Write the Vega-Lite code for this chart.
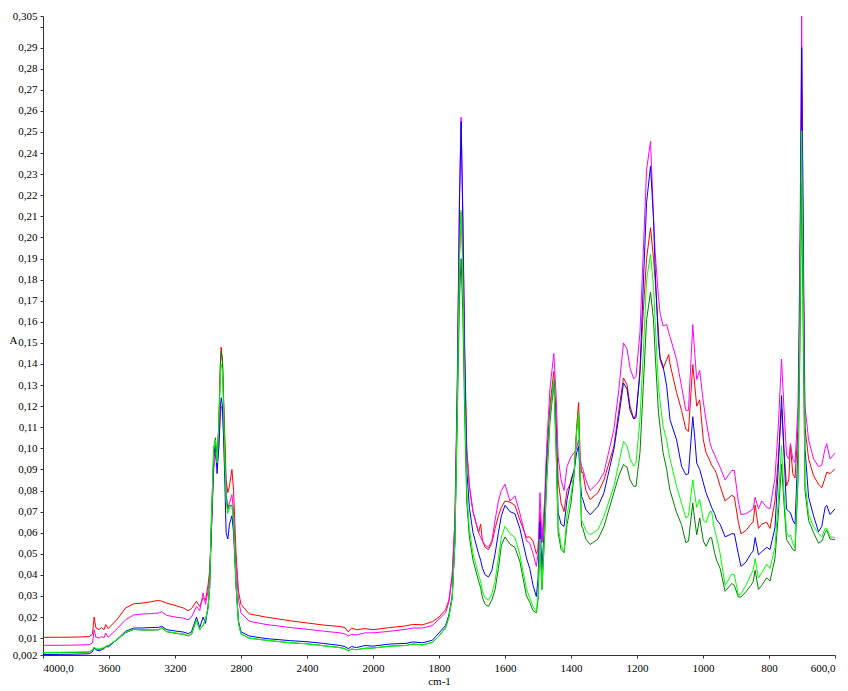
{
"$schema":"https://vega.github.io/schema/vega-lite/v6.json",
"width":792,"height":639,"autosize":"none",
"padding":{"left":43,"top":16,"right":13,"bottom":36},
"background":"white",
"config":{"view":{"stroke":null},"font":"Liberation Serif",
"axis":{"grid":false,"domainColor":"#333","tickColor":"#333","labelColor":"#000","labelFontSize":11,"titleFontWeight":"normal","titleFontSize":11,"titleColor":"#000","tickSize":3}},
"datasets":{
"red":[{"x":4000,"y":0.0104},{"x":3900,"y":0.0104},{"x":3800,"y":0.0105},{"x":3720,"y":0.0107},{"x":3700,"y":0.012},{"x":3690,"y":0.02},{"x":3680,"y":0.015},{"x":3660,"y":0.014},{"x":3645,"y":0.015},{"x":3630,"y":0.014},{"x":3620,"y":0.0164},{"x":3605,"y":0.0145},{"x":3550,"y":0.019},{"x":3500,"y":0.0243},{"x":3450,"y":0.0263},{"x":3400,"y":0.0266},{"x":3350,"y":0.0272},{"x":3300,"y":0.0279},{"x":3280,"y":0.0275},{"x":3250,"y":0.0266},{"x":3200,"y":0.0255},{"x":3150,"y":0.0243},{"x":3120,"y":0.023},{"x":3100,"y":0.024},{"x":3070,"y":0.0275},{"x":3050,"y":0.025},{"x":3030,"y":0.029},{"x":3015,"y":0.028},{"x":3000,"y":0.035},{"x":2990,"y":0.042},{"x":2980,"y":0.06},{"x":2965,"y":0.095},{"x":2955,"y":0.1},{"x":2945,"y":0.095},{"x":2935,"y":0.11},{"x":2925,"y":0.14},{"x":2920,"y":0.148},{"x":2912,"y":0.14},{"x":2900,"y":0.11},{"x":2890,"y":0.085},{"x":2880,"y":0.079},{"x":2870,"y":0.082},{"x":2855,"y":0.09},{"x":2845,"y":0.08},{"x":2830,"y":0.05},{"x":2815,"y":0.032},{"x":2800,"y":0.026},{"x":2750,"y":0.0215},{"x":2650,"y":0.02},{"x":2500,"y":0.0182},{"x":2400,"y":0.0172},{"x":2300,"y":0.0162},{"x":2200,"y":0.0155},{"x":2170,"y":0.015},{"x":2150,"y":0.013},{"x":2130,"y":0.0148},{"x":2100,"y":0.014},{"x":2050,"y":0.0145},{"x":2000,"y":0.014},{"x":1950,"y":0.015},{"x":1900,"y":0.0158},{"x":1880,"y":0.0165},{"x":1850,"y":0.0163},{"x":1820,"y":0.0178},{"x":1800,"y":0.02},{"x":1780,"y":0.0235},{"x":1770,"y":0.028},{"x":1760,"y":0.04},{"x":1752,"y":0.065},{"x":1745,"y":0.12},{"x":1738,"y":0.19},{"x":1733,"y":0.212},{"x":1728,"y":0.19},{"x":1722,"y":0.14},{"x":1716,"y":0.1},{"x":1708,"y":0.082},{"x":1697,"y":0.07},{"x":1680,"y":0.06},{"x":1674,"y":0.064},{"x":1668,"y":0.056},{"x":1660,"y":0.053},{"x":1650,"y":0.052},{"x":1640,"y":0.055},{"x":1630,"y":0.062},{"x":1620,"y":0.068},{"x":1611,"y":0.072},{"x":1600,"y":0.075},{"x":1585,"y":0.0745},{"x":1570,"y":0.073},{"x":1555,"y":0.066},{"x":1535,"y":0.0578},{"x":1525,"y":0.058},{"x":1515,"y":0.056},{"x":1505,"y":0.05},{"x":1500,"y":0.052},{"x":1494,"y":0.0695},{"x":1488,"y":0.0553},{"x":1480,"y":0.07},{"x":1474,"y":0.095},{"x":1464,"y":0.12},{"x":1452,"y":0.1365},{"x":1445,"y":0.115},{"x":1439,"y":0.085},{"x":1430,"y":0.074},{"x":1421,"y":0.07},{"x":1412,"y":0.08},{"x":1400,"y":0.0837},{"x":1390,"y":0.09},{"x":1383,"y":0.11},{"x":1377,"y":0.1217},{"x":1372,"y":0.095},{"x":1368,"y":0.0885},{"x":1364,"y":0.0885},{"x":1355,"y":0.08},{"x":1342,"y":0.0757},{"x":1318,"y":0.079},{"x":1300,"y":0.085},{"x":1270,"y":0.101},{"x":1255,"y":0.118},{"x":1241,"y":0.1334},{"x":1230,"y":0.13},{"x":1221,"y":0.12},{"x":1210,"y":0.114},{"x":1203,"y":0.116},{"x":1191,"y":0.135},{"x":1181,"y":0.165},{"x":1171,"y":0.19},{"x":1159,"y":0.2046},{"x":1150,"y":0.19},{"x":1145,"y":0.18},{"x":1135,"y":0.155},{"x":1130,"y":0.142},{"x":1121,"y":0.138},{"x":1110,"y":0.142},{"x":1104,"y":0.1445},{"x":1100,"y":0.14},{"x":1080,"y":0.1264},{"x":1065,"y":0.118},{"x":1052,"y":0.109},{"x":1044,"y":0.108},{"x":1031,"y":0.1397},{"x":1025,"y":0.13},{"x":1019,"y":0.12},{"x":1010,"y":0.123},{"x":999,"y":0.104},{"x":991,"y":0.098},{"x":979,"y":0.094},{"x":974,"y":0.092},{"x":965,"y":0.09},{"x":959,"y":0.088},{"x":948,"y":0.082},{"x":933,"y":0.075},{"x":913,"y":0.0777},{"x":905,"y":0.077},{"x":893,"y":0.065},{"x":885,"y":0.0595},{"x":870,"y":0.061},{"x":855,"y":0.064},{"x":848,"y":0.065},{"x":842,"y":0.0731},{"x":832,"y":0.062},{"x":822,"y":0.064},{"x":807,"y":0.065},{"x":797,"y":0.062},{"x":782,"y":0.075},{"x":772,"y":0.095},{"x":762,"y":0.1187},{"x":755,"y":0.1},{"x":747,"y":0.0822},{"x":740,"y":0.085},{"x":735,"y":0.1013},{"x":728,"y":0.088},{"x":721,"y":0.0859},{"x":712,"y":0.11},{"x":706,"y":0.18},{"x":701,"y":0.27},{"x":696,"y":0.18},{"x":691,"y":0.11},{"x":680,"y":0.095},{"x":665,"y":0.087},{"x":650,"y":0.083},{"x":640,"y":0.0813},{"x":630,"y":0.086},{"x":625,"y":0.0887},{"x":615,"y":0.088},{"x":600,"y":0.0904}],
"magenta":[{"x":4000,"y":0.0066},{"x":3900,"y":0.0066},{"x":3800,"y":0.0067},{"x":3720,"y":0.0069},{"x":3700,"y":0.0078},{"x":3690,"y":0.014},{"x":3680,"y":0.0105},{"x":3660,"y":0.01},{"x":3645,"y":0.0108},{"x":3630,"y":0.0102},{"x":3620,"y":0.0124},{"x":3605,"y":0.0105},{"x":3550,"y":0.0145},{"x":3500,"y":0.0187},{"x":3450,"y":0.021},{"x":3400,"y":0.0214},{"x":3350,"y":0.0216},{"x":3300,"y":0.0219},{"x":3280,"y":0.0225},{"x":3250,"y":0.0208},{"x":3200,"y":0.02},{"x":3150,"y":0.0195},{"x":3120,"y":0.0187},{"x":3100,"y":0.02},{"x":3070,"y":0.025},{"x":3050,"y":0.023},{"x":3030,"y":0.0315},{"x":3015,"y":0.026},{"x":3000,"y":0.032},{"x":2990,"y":0.04},{"x":2980,"y":0.06},{"x":2965,"y":0.09},{"x":2955,"y":0.097},{"x":2945,"y":0.092},{"x":2935,"y":0.1},{"x":2925,"y":0.115},{"x":2920,"y":0.12},{"x":2912,"y":0.118},{"x":2900,"y":0.1},{"x":2890,"y":0.078},{"x":2880,"y":0.072},{"x":2870,"y":0.074},{"x":2855,"y":0.078},{"x":2845,"y":0.07},{"x":2830,"y":0.045},{"x":2815,"y":0.028},{"x":2800,"y":0.022},{"x":2750,"y":0.018},{"x":2650,"y":0.0165},{"x":2500,"y":0.015},{"x":2400,"y":0.0142},{"x":2300,"y":0.0133},{"x":2200,"y":0.0125},{"x":2170,"y":0.012},{"x":2150,"y":0.011},{"x":2130,"y":0.0118},{"x":2100,"y":0.0115},{"x":2050,"y":0.0125},{"x":2000,"y":0.0125},{"x":1950,"y":0.0132},{"x":1900,"y":0.0142},{"x":1880,"y":0.0148},{"x":1850,"y":0.0148},{"x":1820,"y":0.016},{"x":1800,"y":0.019},{"x":1780,"y":0.022},{"x":1770,"y":0.027},{"x":1760,"y":0.039},{"x":1752,"y":0.065},{"x":1745,"y":0.13},{"x":1738,"y":0.22},{"x":1733,"y":0.257},{"x":1728,"y":0.215},{"x":1722,"y":0.15},{"x":1716,"y":0.1},{"x":1708,"y":0.082},{"x":1697,"y":0.07},{"x":1680,"y":0.06},{"x":1674,"y":0.058},{"x":1668,"y":0.056},{"x":1660,"y":0.054},{"x":1650,"y":0.053},{"x":1640,"y":0.056},{"x":1630,"y":0.066},{"x":1620,"y":0.075},{"x":1611,"y":0.08},{"x":1600,"y":0.083},{"x":1585,"y":0.075},{"x":1570,"y":0.0775},{"x":1555,"y":0.0693},{"x":1535,"y":0.0562},{"x":1525,"y":0.055},{"x":1515,"y":0.05},{"x":1505,"y":0.044},{"x":1500,"y":0.05},{"x":1494,"y":0.079},{"x":1488,"y":0.057},{"x":1480,"y":0.075},{"x":1474,"y":0.1},{"x":1464,"y":0.128},{"x":1452,"y":0.145},{"x":1445,"y":0.125},{"x":1439,"y":0.096},{"x":1430,"y":0.085},{"x":1421,"y":0.08},{"x":1412,"y":0.0915},{"x":1400,"y":0.096},{"x":1390,"y":0.098},{"x":1383,"y":0.1},{"x":1377,"y":0.104},{"x":1372,"y":0.095},{"x":1368,"y":0.0915},{"x":1364,"y":0.09},{"x":1355,"y":0.085},{"x":1342,"y":0.08},{"x":1318,"y":0.0837},{"x":1300,"y":0.0885},{"x":1270,"y":0.109},{"x":1255,"y":0.128},{"x":1241,"y":0.15},{"x":1230,"y":0.147},{"x":1221,"y":0.138},{"x":1210,"y":0.133},{"x":1203,"y":0.134},{"x":1191,"y":0.155},{"x":1181,"y":0.193},{"x":1171,"y":0.232},{"x":1159,"y":0.2456},{"x":1150,"y":0.21},{"x":1145,"y":0.193},{"x":1135,"y":0.172},{"x":1130,"y":0.164},{"x":1121,"y":0.158},{"x":1110,"y":0.1587},{"x":1104,"y":0.155},{"x":1100,"y":0.153},{"x":1080,"y":0.142},{"x":1065,"y":0.1294},{"x":1052,"y":0.118},{"x":1044,"y":0.118},{"x":1031,"y":0.1587},{"x":1025,"y":0.145},{"x":1019,"y":0.1326},{"x":1010,"y":0.137},{"x":999,"y":0.122},{"x":991,"y":0.1136},{"x":979,"y":0.1027},{"x":974,"y":0.1},{"x":965,"y":0.097},{"x":959,"y":0.0946},{"x":948,"y":0.091},{"x":933,"y":0.085},{"x":913,"y":0.0895},{"x":905,"y":0.0895},{"x":893,"y":0.075},{"x":885,"y":0.0686},{"x":870,"y":0.069},{"x":855,"y":0.0705},{"x":848,"y":0.0713},{"x":842,"y":0.0768},{"x":832,"y":0.0713},{"x":822,"y":0.075},{"x":807,"y":0.072},{"x":797,"y":0.0713},{"x":782,"y":0.0859},{"x":772,"y":0.11},{"x":762,"y":0.1423},{"x":755,"y":0.12},{"x":747,"y":0.0968},{"x":740,"y":0.095},{"x":735,"y":0.1022},{"x":728,"y":0.095},{"x":721,"y":0.0932},{"x":712,"y":0.12},{"x":706,"y":0.2},{"x":701,"y":0.305},{"x":696,"y":0.2},{"x":691,"y":0.12},{"x":680,"y":0.104},{"x":665,"y":0.095},{"x":650,"y":0.0913},{"x":640,"y":0.092},{"x":630,"y":0.1},{"x":625,"y":0.1022},{"x":615,"y":0.095},{"x":600,"y":0.0977}],
"blue":[{"x":4000,"y":0.0022},{"x":3900,"y":0.0023},{"x":3800,"y":0.0024},{"x":3720,"y":0.0026},{"x":3700,"y":0.0035},{"x":3690,"y":0.0055},{"x":3680,"y":0.0045},{"x":3660,"y":0.004},{"x":3645,"y":0.0045},{"x":3630,"y":0.005},{"x":3620,"y":0.006},{"x":3605,"y":0.0058},{"x":3550,"y":0.0095},{"x":3500,"y":0.0132},{"x":3450,"y":0.0148},{"x":3400,"y":0.0148},{"x":3350,"y":0.015},{"x":3300,"y":0.0151},{"x":3280,"y":0.0156},{"x":3250,"y":0.014},{"x":3200,"y":0.0134},{"x":3150,"y":0.0129},{"x":3120,"y":0.0121},{"x":3100,"y":0.013},{"x":3070,"y":0.02},{"x":3050,"y":0.015},{"x":3030,"y":0.02},{"x":3015,"y":0.017},{"x":3000,"y":0.025},{"x":2990,"y":0.034},{"x":2980,"y":0.06},{"x":2965,"y":0.097},{"x":2955,"y":0.102},{"x":2945,"y":0.088},{"x":2935,"y":0.1},{"x":2925,"y":0.12},{"x":2920,"y":0.124},{"x":2912,"y":0.12},{"x":2900,"y":0.09},{"x":2890,"y":0.06},{"x":2880,"y":0.057},{"x":2870,"y":0.064},{"x":2855,"y":0.068},{"x":2845,"y":0.06},{"x":2830,"y":0.035},{"x":2815,"y":0.018},{"x":2800,"y":0.013},{"x":2750,"y":0.011},{"x":2650,"y":0.0098},{"x":2500,"y":0.0088},{"x":2400,"y":0.0083},{"x":2300,"y":0.0075},{"x":2200,"y":0.0065},{"x":2170,"y":0.006},{"x":2150,"y":0.005},{"x":2130,"y":0.006},{"x":2100,"y":0.0055},{"x":2050,"y":0.0065},{"x":2000,"y":0.0062},{"x":1950,"y":0.0072},{"x":1900,"y":0.0075},{"x":1880,"y":0.0082},{"x":1850,"y":0.0078},{"x":1820,"y":0.009},{"x":1800,"y":0.0125},{"x":1780,"y":0.016},{"x":1770,"y":0.021},{"x":1760,"y":0.03},{"x":1752,"y":0.055},{"x":1745,"y":0.12},{"x":1738,"y":0.215},{"x":1733,"y":0.255},{"x":1728,"y":0.21},{"x":1722,"y":0.14},{"x":1716,"y":0.09},{"x":1708,"y":0.072},{"x":1697,"y":0.06},{"x":1680,"y":0.05},{"x":1674,"y":0.047},{"x":1668,"y":0.043},{"x":1660,"y":0.04},{"x":1650,"y":0.039},{"x":1640,"y":0.042},{"x":1630,"y":0.05},{"x":1620,"y":0.06},{"x":1611,"y":0.068},{"x":1600,"y":0.073},{"x":1585,"y":0.07},{"x":1570,"y":0.069},{"x":1555,"y":0.062},{"x":1535,"y":0.048},{"x":1525,"y":0.043},{"x":1515,"y":0.035},{"x":1505,"y":0.0297},{"x":1500,"y":0.038},{"x":1494,"y":0.065},{"x":1488,"y":0.0425},{"x":1480,"y":0.065},{"x":1474,"y":0.09},{"x":1464,"y":0.115},{"x":1452,"y":0.1326},{"x":1445,"y":0.105},{"x":1439,"y":0.0695},{"x":1430,"y":0.064},{"x":1421,"y":0.063},{"x":1412,"y":0.0757},{"x":1400,"y":0.085},{"x":1390,"y":0.09},{"x":1383,"y":0.098},{"x":1377,"y":0.101},{"x":1372,"y":0.085},{"x":1368,"y":0.0772},{"x":1364,"y":0.0757},{"x":1355,"y":0.071},{"x":1342,"y":0.0685},{"x":1318,"y":0.0725},{"x":1300,"y":0.079},{"x":1270,"y":0.0995},{"x":1255,"y":0.115},{"x":1241,"y":0.131},{"x":1230,"y":0.128},{"x":1221,"y":0.118},{"x":1210,"y":0.114},{"x":1203,"y":0.1146},{"x":1191,"y":0.1373},{"x":1181,"y":0.177},{"x":1171,"y":0.2166},{"x":1159,"y":0.2338},{"x":1150,"y":0.2086},{"x":1145,"y":0.185},{"x":1135,"y":0.15},{"x":1130,"y":0.143},{"x":1121,"y":0.139},{"x":1110,"y":0.1294},{"x":1104,"y":0.12},{"x":1100,"y":0.1136},{"x":1080,"y":0.104},{"x":1065,"y":0.0915},{"x":1052,"y":0.0875},{"x":1044,"y":0.088},{"x":1031,"y":0.115},{"x":1025,"y":0.105},{"x":1019,"y":0.093},{"x":1010,"y":0.09},{"x":999,"y":0.0836},{"x":991,"y":0.079},{"x":979,"y":0.0742},{"x":974,"y":0.072},{"x":965,"y":0.069},{"x":959,"y":0.0662},{"x":948,"y":0.064},{"x":933,"y":0.058},{"x":913,"y":0.0595},{"x":905,"y":0.0595},{"x":893,"y":0.05},{"x":885,"y":0.044},{"x":870,"y":0.046},{"x":855,"y":0.05},{"x":848,"y":0.0513},{"x":842,"y":0.0577},{"x":832,"y":0.0495},{"x":822,"y":0.051},{"x":807,"y":0.0531},{"x":797,"y":0.052},{"x":782,"y":0.0622},{"x":772,"y":0.09},{"x":762,"y":0.125},{"x":755,"y":0.1},{"x":747,"y":0.0713},{"x":740,"y":0.07},{"x":735,"y":0.0695},{"x":728,"y":0.066},{"x":721,"y":0.064},{"x":712,"y":0.1},{"x":706,"y":0.18},{"x":701,"y":0.29},{"x":696,"y":0.19},{"x":691,"y":0.1},{"x":680,"y":0.0768},{"x":665,"y":0.068},{"x":650,"y":0.0604},{"x":640,"y":0.063},{"x":630,"y":0.072},{"x":625,"y":0.073},{"x":615,"y":0.0686},{"x":600,"y":0.0713}],
"dgreen":[{"x":4000,"y":0.003},{"x":3900,"y":0.0031},{"x":3800,"y":0.0032},{"x":3720,"y":0.0034},{"x":3700,"y":0.0043},{"x":3690,"y":0.0056},{"x":3680,"y":0.0048},{"x":3660,"y":0.0046},{"x":3645,"y":0.005},{"x":3630,"y":0.0053},{"x":3620,"y":0.006},{"x":3605,"y":0.0063},{"x":3550,"y":0.0093},{"x":3500,"y":0.0125},{"x":3450,"y":0.0141},{"x":3400,"y":0.0138},{"x":3350,"y":0.0138},{"x":3300,"y":0.0139},{"x":3280,"y":0.0148},{"x":3250,"y":0.013},{"x":3200,"y":0.0123},{"x":3150,"y":0.0118},{"x":3120,"y":0.011},{"x":3100,"y":0.0118},{"x":3070,"y":0.0185},{"x":3050,"y":0.014},{"x":3030,"y":0.016},{"x":3015,"y":0.019},{"x":3000,"y":0.024},{"x":2990,"y":0.034},{"x":2980,"y":0.065},{"x":2965,"y":0.1},{"x":2955,"y":0.105},{"x":2945,"y":0.095},{"x":2935,"y":0.11},{"x":2925,"y":0.14},{"x":2920,"y":0.146},{"x":2912,"y":0.142},{"x":2900,"y":0.105},{"x":2890,"y":0.078},{"x":2880,"y":0.071},{"x":2870,"y":0.073},{"x":2855,"y":0.073},{"x":2845,"y":0.066},{"x":2830,"y":0.035},{"x":2815,"y":0.017},{"x":2800,"y":0.012},{"x":2750,"y":0.01},{"x":2650,"y":0.009},{"x":2500,"y":0.0078},{"x":2400,"y":0.0073},{"x":2300,"y":0.0064},{"x":2200,"y":0.0055},{"x":2170,"y":0.005},{"x":2150,"y":0.004},{"x":2130,"y":0.0048},{"x":2100,"y":0.0045},{"x":2050,"y":0.0052},{"x":2000,"y":0.0053},{"x":1950,"y":0.0062},{"x":1900,"y":0.0065},{"x":1880,"y":0.0072},{"x":1850,"y":0.0068},{"x":1820,"y":0.008},{"x":1800,"y":0.011},{"x":1780,"y":0.015},{"x":1770,"y":0.02},{"x":1760,"y":0.029},{"x":1752,"y":0.055},{"x":1745,"y":0.11},{"x":1738,"y":0.17},{"x":1733,"y":0.19},{"x":1728,"y":0.165},{"x":1722,"y":0.115},{"x":1716,"y":0.075},{"x":1708,"y":0.058},{"x":1697,"y":0.047},{"x":1680,"y":0.037},{"x":1674,"y":0.034},{"x":1668,"y":0.029},{"x":1660,"y":0.026},{"x":1650,"y":0.025},{"x":1640,"y":0.028},{"x":1630,"y":0.033},{"x":1620,"y":0.043},{"x":1611,"y":0.054},{"x":1600,"y":0.058},{"x":1585,"y":0.0546},{"x":1570,"y":0.053},{"x":1555,"y":0.0464},{"x":1535,"y":0.03},{"x":1525,"y":0.027},{"x":1515,"y":0.023},{"x":1505,"y":0.022},{"x":1500,"y":0.028},{"x":1494,"y":0.055},{"x":1488,"y":0.033},{"x":1480,"y":0.058},{"x":1474,"y":0.083},{"x":1464,"y":0.112},{"x":1452,"y":0.131},{"x":1445,"y":0.098},{"x":1439,"y":0.06},{"x":1430,"y":0.052},{"x":1421,"y":0.0505},{"x":1412,"y":0.0638},{"x":1400,"y":0.074},{"x":1390,"y":0.088},{"x":1383,"y":0.108},{"x":1377,"y":0.117},{"x":1372,"y":0.082},{"x":1368,"y":0.063},{"x":1364,"y":0.062},{"x":1355,"y":0.057},{"x":1342,"y":0.0544},{"x":1318,"y":0.057},{"x":1300,"y":0.063},{"x":1270,"y":0.079},{"x":1255,"y":0.087},{"x":1241,"y":0.0923},{"x":1230,"y":0.091},{"x":1221,"y":0.085},{"x":1210,"y":0.082},{"x":1203,"y":0.082},{"x":1191,"y":0.098},{"x":1181,"y":0.1294},{"x":1171,"y":0.161},{"x":1159,"y":0.174},{"x":1150,"y":0.161},{"x":1145,"y":0.145},{"x":1135,"y":0.117},{"x":1130,"y":0.11},{"x":1121,"y":0.098},{"x":1110,"y":0.09},{"x":1104,"y":0.0837},{"x":1100,"y":0.08},{"x":1080,"y":0.0695},{"x":1065,"y":0.0638},{"x":1052,"y":0.0553},{"x":1044,"y":0.056},{"x":1031,"y":0.074},{"x":1025,"y":0.066},{"x":1019,"y":0.059},{"x":1010,"y":0.067},{"x":999,"y":0.056},{"x":991,"y":0.0535},{"x":979,"y":0.0576},{"x":974,"y":0.0576},{"x":965,"y":0.0505},{"x":959,"y":0.047},{"x":948,"y":0.043},{"x":933,"y":0.0322},{"x":913,"y":0.0359},{"x":905,"y":0.035},{"x":893,"y":0.0295},{"x":885,"y":0.0295},{"x":870,"y":0.032},{"x":855,"y":0.035},{"x":848,"y":0.0368},{"x":842,"y":0.0422},{"x":832,"y":0.0331},{"x":822,"y":0.035},{"x":807,"y":0.0386},{"x":797,"y":0.037},{"x":782,"y":0.0477},{"x":772,"y":0.068},{"x":762,"y":0.0923},{"x":755,"y":0.075},{"x":747,"y":0.0568},{"x":740,"y":0.055},{"x":735,"y":0.054},{"x":728,"y":0.052},{"x":721,"y":0.0513},{"x":712,"y":0.085},{"x":706,"y":0.15},{"x":701,"y":0.226},{"x":696,"y":0.15},{"x":691,"y":0.08},{"x":680,"y":0.0658},{"x":665,"y":0.06},{"x":650,"y":0.055},{"x":640,"y":0.056},{"x":630,"y":0.06},{"x":625,"y":0.0613},{"x":615,"y":0.057},{"x":600,"y":0.0567}],
"lgreen":[{"x":4000,"y":0.0032},{"x":3900,"y":0.0033},{"x":3800,"y":0.0034},{"x":3720,"y":0.0036},{"x":3700,"y":0.0045},{"x":3690,"y":0.0058},{"x":3680,"y":0.005},{"x":3660,"y":0.0048},{"x":3645,"y":0.0052},{"x":3630,"y":0.0055},{"x":3620,"y":0.0062},{"x":3605,"y":0.0065},{"x":3550,"y":0.0095},{"x":3500,"y":0.0127},{"x":3450,"y":0.0143},{"x":3400,"y":0.014},{"x":3350,"y":0.014},{"x":3300,"y":0.0141},{"x":3280,"y":0.015},{"x":3250,"y":0.0132},{"x":3200,"y":0.0125},{"x":3150,"y":0.012},{"x":3120,"y":0.0112},{"x":3100,"y":0.012},{"x":3070,"y":0.0187},{"x":3050,"y":0.014},{"x":3030,"y":0.016},{"x":3015,"y":0.019},{"x":3000,"y":0.024},{"x":2990,"y":0.034},{"x":2980,"y":0.065},{"x":2965,"y":0.1},{"x":2955,"y":0.104},{"x":2945,"y":0.093},{"x":2935,"y":0.11},{"x":2925,"y":0.135},{"x":2920,"y":0.14},{"x":2912,"y":0.137},{"x":2900,"y":0.1},{"x":2890,"y":0.075},{"x":2880,"y":0.069},{"x":2870,"y":0.072},{"x":2855,"y":0.073},{"x":2845,"y":0.066},{"x":2830,"y":0.035},{"x":2815,"y":0.017},{"x":2800,"y":0.012},{"x":2750,"y":0.01},{"x":2650,"y":0.009},{"x":2500,"y":0.0078},{"x":2400,"y":0.0073},{"x":2300,"y":0.0064},{"x":2200,"y":0.0055},{"x":2170,"y":0.005},{"x":2150,"y":0.004},{"x":2130,"y":0.0048},{"x":2100,"y":0.0045},{"x":2050,"y":0.0052},{"x":2000,"y":0.0053},{"x":1950,"y":0.0062},{"x":1900,"y":0.0065},{"x":1880,"y":0.0072},{"x":1850,"y":0.0068},{"x":1820,"y":0.008},{"x":1800,"y":0.011},{"x":1780,"y":0.015},{"x":1770,"y":0.02},{"x":1760,"y":0.029},{"x":1752,"y":0.055},{"x":1745,"y":0.115},{"x":1738,"y":0.19},{"x":1733,"y":0.213},{"x":1728,"y":0.185},{"x":1722,"y":0.125},{"x":1716,"y":0.08},{"x":1708,"y":0.062},{"x":1697,"y":0.05},{"x":1680,"y":0.04},{"x":1674,"y":0.037},{"x":1668,"y":0.032},{"x":1660,"y":0.029},{"x":1650,"y":0.028},{"x":1640,"y":0.031},{"x":1630,"y":0.037},{"x":1620,"y":0.048},{"x":1611,"y":0.058},{"x":1600,"y":0.063},{"x":1585,"y":0.0595},{"x":1570,"y":0.0578},{"x":1555,"y":0.0496},{"x":1535,"y":0.0333},{"x":1525,"y":0.029},{"x":1515,"y":0.025},{"x":1505,"y":0.0227},{"x":1500,"y":0.03},{"x":1494,"y":0.057},{"x":1488,"y":0.034},{"x":1480,"y":0.06},{"x":1474,"y":0.085},{"x":1464,"y":0.115},{"x":1452,"y":0.133},{"x":1445,"y":0.1},{"x":1439,"y":0.063},{"x":1430,"y":0.054},{"x":1421,"y":0.051},{"x":1412,"y":0.0685},{"x":1400,"y":0.078},{"x":1390,"y":0.09},{"x":1383,"y":0.108},{"x":1377,"y":0.117},{"x":1372,"y":0.085},{"x":1368,"y":0.066},{"x":1364,"y":0.0647},{"x":1355,"y":0.061},{"x":1342,"y":0.059},{"x":1318,"y":0.0614},{"x":1300,"y":0.0678},{"x":1270,"y":0.082},{"x":1255,"y":0.093},{"x":1241,"y":0.1033},{"x":1230,"y":0.101},{"x":1221,"y":0.095},{"x":1210,"y":0.0915},{"x":1203,"y":0.093},{"x":1191,"y":0.1137},{"x":1181,"y":0.145},{"x":1171,"y":0.18},{"x":1159,"y":0.192},{"x":1150,"y":0.177},{"x":1145,"y":0.16},{"x":1135,"y":0.1294},{"x":1130,"y":0.122},{"x":1121,"y":0.1105},{"x":1110,"y":0.104},{"x":1104,"y":0.098},{"x":1100,"y":0.095},{"x":1080,"y":0.082},{"x":1065,"y":0.074},{"x":1052,"y":0.067},{"x":1044,"y":0.068},{"x":1031,"y":0.085},{"x":1025,"y":0.078},{"x":1019,"y":0.072},{"x":1010,"y":0.0757},{"x":999,"y":0.066},{"x":991,"y":0.0647},{"x":979,"y":0.07},{"x":974,"y":0.07},{"x":965,"y":0.0614},{"x":959,"y":0.058},{"x":948,"y":0.05},{"x":933,"y":0.035},{"x":913,"y":0.0404},{"x":905,"y":0.04},{"x":893,"y":0.0304},{"x":885,"y":0.031},{"x":870,"y":0.035},{"x":855,"y":0.04},{"x":848,"y":0.0422},{"x":842,"y":0.0477},{"x":832,"y":0.0386},{"x":822,"y":0.041},{"x":807,"y":0.045},{"x":797,"y":0.043},{"x":782,"y":0.0531},{"x":772,"y":0.075},{"x":762,"y":0.1013},{"x":755,"y":0.08},{"x":747,"y":0.0604},{"x":740,"y":0.058},{"x":735,"y":0.059},{"x":728,"y":0.055},{"x":721,"y":0.0531},{"x":712,"y":0.09},{"x":706,"y":0.17},{"x":701,"y":0.2505},{"x":696,"y":0.17},{"x":691,"y":0.085},{"x":680,"y":0.0686},{"x":665,"y":0.063},{"x":650,"y":0.0595},{"x":640,"y":0.058},{"x":630,"y":0.062},{"x":625,"y":0.0622},{"x":615,"y":0.058},{"x":600,"y":0.0577}]
},
"encoding":{
"x":{"field":"x","type":"quantitative","scale":{"domain":[4000,2000,600],"range":[0,330,792],"nice":false,"zero":false},
"axis":{"values":[4000,3600,3200,2800,2400,2000,1800,1600,1400,1200,1000,800,600],"labelExpr":"datum.value == 4000 ? '4000,0' : (datum.value == 600 ? '600,0' : toString(datum.value))","labelFont":"Liberation Serif","titleFont":"Liberation Serif","labelPadding":4,"labelOverlap":false,"labelBound":false,"title":"cm-1","titlePadding":2}},
"y":{"field":"y","type":"quantitative","scale":{"domain":[0.002,0.305],"nice":false,"zero":false},
"axis":{"values":[0.002,0.01,0.02,0.03,0.04,0.05,0.06,0.07,0.08,0.09,0.1,0.11,0.12,0.13,0.14,0.15,0.16,0.17,0.18,0.19,0.2,0.21,0.22,0.23,0.24,0.25,0.26,0.27,0.28,0.29,0.3,0.305],"labelExpr":"(datum.value < 0.005 || datum.value > 0.3001) ? replace(format(datum.value, '.3f'), '.', ',') : (abs(datum.value - 0.3) < 0.0001 ? '' : replace(format(datum.value, '.2f'), '.', ','))","labelFont":"Liberation Serif","titleFont":"Liberation Serif","labelPadding":3,"labelOverlap":false,"title":"A","titleAngle":0,"titleX":-34,"titleY":324,"titleAlign":"left","titleBaseline":"middle"}}
},
"layer":[
{"data":{"name":"red"},"mark":{"type":"line","color":"#ff0000","strokeWidth":1,"clip":true}},
{"data":{"name":"magenta"},"mark":{"type":"line","color":"#ff00ff","strokeWidth":1,"clip":true}},
{"data":{"name":"blue"},"mark":{"type":"line","color":"#0000ff","strokeWidth":1,"clip":true}},
{"data":{"name":"dgreen"},"mark":{"type":"line","color":"#008000","strokeWidth":1,"clip":true}},
{"data":{"name":"lgreen"},"mark":{"type":"line","color":"#00ff00","strokeWidth":1,"clip":true}}
]
}
